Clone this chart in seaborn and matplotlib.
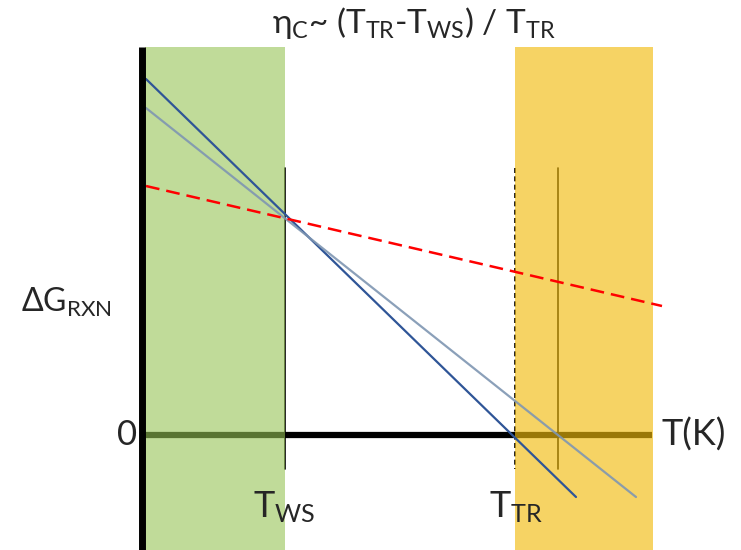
import matplotlib
matplotlib.use("Agg")
import matplotlib.pyplot as plt
import seaborn as sns

# schematic coordinates: T runs left->right, dG = 0 on the T axis
T_AXIS = 142
T_WS = 285
T_TR = 515
T_HOT = 558
T_END = 652
G_TOP = 388
G_BOTTOM = -115

# straight lines of dG vs T (two end points each)
steep_T = [146, 576]
steep_G = [356, -62]
mid_T = [146, 636]
mid_G = [327, -62]
flat_T = [146, 662]
flat_G = [249, 129]

# temperature windows
green_band = (145, 285)
yellow_band = (515, 653)

# short vertical markers
marker_top = 267
marker_bottom = -34

sns.set_theme(style="white")
plt.rcParams['font.family'] = ['Lato', 'DejaVu Sans']
plt.rcParams['mathtext.fontset'] = 'custom'
plt.rcParams['mathtext.rm'] = 'Lato'
plt.rcParams['mathtext.it'] = 'Lato:italic'

fig = plt.figure(figsize=(7.41, 5.5), dpi=100)
ax = fig.add_axes([0, 0, 1, 1])
ax.set_xlim(0, 741)
ax.set_ylim(G_BOTTOM, 435)
ax.axis('off')

# zero line and markers sit under the translucent bands
ax.plot([T_AXIS, T_END], [0, 0], color='black', lw=4.5, zorder=1, solid_capstyle='butt')
ax.plot([T_WS, T_WS], [marker_top, marker_bottom], color='black', lw=1.2, zorder=1)
ax.plot([T_TR, T_TR], [marker_top, marker_bottom], color='black', lw=1.2,
        linestyle=(0, (3, 2)), zorder=1)
ax.plot([T_HOT, T_HOT], [marker_top, marker_bottom], color='black', lw=1.2, zorder=1)

band_frac = (G_TOP - G_BOTTOM) / (435 - G_BOTTOM)
ax.axvspan(*green_band, ymin=0, ymax=band_frac,
           color='#96C355', alpha=0.6, lw=0, zorder=2)
ax.axvspan(*yellow_band, ymin=0, ymax=band_frac,
           color='#F2BB0C', alpha=0.64, lw=0, zorder=2)

# vertical dG axis
ax.plot([T_AXIS, T_AXIS], [G_TOP, G_BOTTOM], color='black', lw=5, zorder=4,
        solid_capstyle='butt')

sns.lineplot(x=steep_T, y=steep_G, color='#2F5597', lw=1.6, ax=ax, zorder=3)
sns.lineplot(x=mid_T, y=mid_G, color='#7F96B2', lw=1.6, alpha=0.9, ax=ax, zorder=3)
sns.lineplot(x=flat_T, y=flat_G, color='#FF0000', lw=1.8,
             linestyle=(0, (5.5, 2.8)), ax=ax, zorder=3)

fs = 23
ax.text(T_AXIS - 5, 0, '0', fontsize=fs + 2, ha='right', va='center')
ax.text(662, 0, 'T(K)', fontsize=fs + 3, ha='left', va='center')
ax.text(21, 133, r'ΔG$\mathrm{_{RXN}}$', fontsize=fs, ha='left', va='center')
ax.text(T_WS - 32, -72, r'T$\mathrm{_{WS}}$', fontsize=fs + 3, ha='left', va='center')
ax.text(T_TR - 26, -72, r'T$\mathrm{_{TR}}$', fontsize=fs + 3, ha='left', va='center')
ax.text(272, 402, r'$\mathrm{η_{C}}$~ ($\mathrm{T_{TR}}$-$\mathrm{T_{WS}}$) / $\mathrm{T_{TR}}$',
        fontsize=24, ha='left', va='baseline')

fig.savefig('out.png', dpi=100)
